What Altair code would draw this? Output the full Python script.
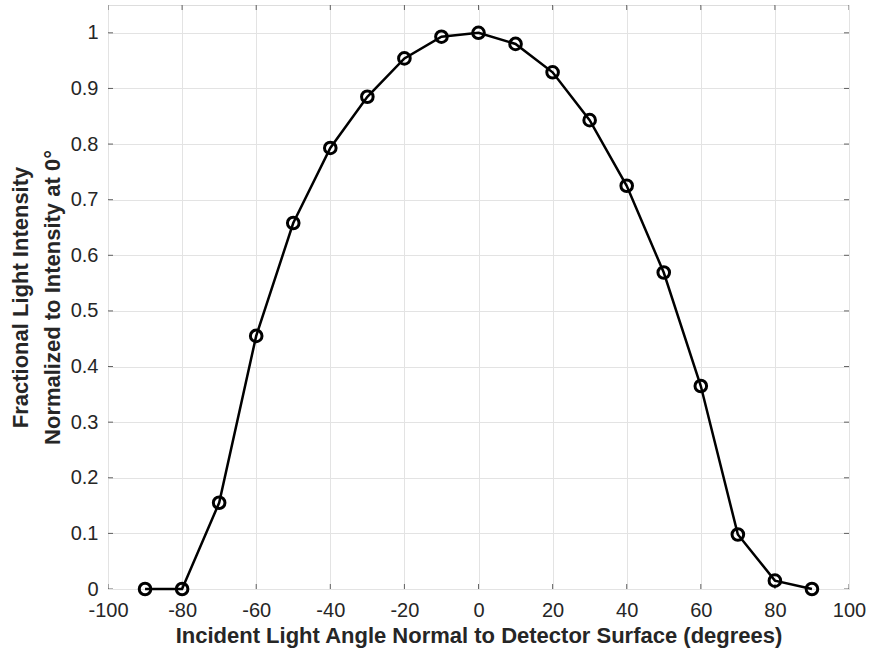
import altair as alt
import pandas as pd

# Incident angle (degrees) and measured fractional intensity, normalised to 0°
angles = [-90, -80, -70, -60, -50, -40, -30, -20, -10, 0, 10, 20, 30, 40, 50, 60, 70, 80, 90]
intensity = [0.0, 0.0, 0.155, 0.455, 0.658, 0.793, 0.885, 0.954, 0.993, 1.0,
             0.980, 0.929, 0.843, 0.725, 0.569, 0.365, 0.098, 0.015, 0.0]

x_ticks = [-100, -80, -60, -40, -20, 0, 20, 40, 60, 80, 100]
y_ticks = [0, 0.1, 0.2, 0.3, 0.4, 0.5, 0.6, 0.7, 0.8, 0.9, 1.0]

W, H = 741, 584
FONT = "Liberation Sans"
INK = "#262626"
GRID = "#e3e3e3"

df = pd.DataFrame({"angle": angles, "intensity": intensity})
xt = pd.DataFrame({"t": x_ticks})
yt = pd.DataFrame({"t": y_ticks})

x_scale = alt.Scale(domain=[-100, 100], nice=False, zero=False)
y_scale = alt.Scale(domain=[0, 1.05], nice=False, zero=False)

x_axis = alt.Axis(
    values=x_ticks, labelExpr="'' + datum.value",
    title="Incident Light Angle Normal to Detector Surface (degrees)",
    grid=True, gridColor=GRID, gridWidth=1, domain=False, ticks=False,
    labelFont=FONT, labelFontSize=20, labelColor=INK, labelPadding=11,
    titleFont=FONT, titleFontSize=22, titleFontWeight="bold", titleColor=INK, titlePadding=5,
    labelFlush=False,
)
y_axis = alt.Axis(
    values=y_ticks, labelExpr="'' + datum.value",
    title=["Fractional Light Intensity", "Normalized to Intensity at 0°"],
    grid=True, gridColor=GRID, gridWidth=1, domain=False, ticks=False,
    labelFont=FONT, labelFontSize=20, labelColor=INK, labelPadding=10,
    titleFont=FONT, titleFontSize=22, titleFontWeight="bold", titleColor=INK,
    titlePadding=6, titleLineHeight=32, labelFlush=False,
)

line = alt.Chart(df).mark_line(color="black", strokeWidth=2.5).encode(
    x=alt.X("angle:Q", scale=x_scale, axis=x_axis),
    y=alt.Y("intensity:Q", scale=y_scale, axis=y_axis),
)
points = alt.Chart(df).mark_point(
    shape="circle", filled=False, color="black", size=135, strokeWidth=3, opacity=1
).encode(x=alt.X("angle:Q", scale=x_scale), y=alt.Y("intensity:Q", scale=y_scale))

# Inward tick marks on all four sides of the box (outer halves clipped away)
tick_style = dict(color=INK, thickness=1, size=10, clip=True)
xb = alt.Chart(xt).mark_tick(orient="vertical", **tick_style).encode(
    x=alt.X("t:Q", scale=x_scale), y=alt.value(H))
xtop = alt.Chart(xt).mark_tick(orient="vertical", **tick_style).encode(
    x=alt.X("t:Q", scale=x_scale), y=alt.value(0))
yl = alt.Chart(yt).mark_tick(orient="horizontal", **tick_style).encode(
    y=alt.Y("t:Q", scale=y_scale), x=alt.value(0))
yr = alt.Chart(yt).mark_tick(orient="horizontal", **tick_style).encode(
    y=alt.Y("t:Q", scale=y_scale), x=alt.value(W))

chart = alt.layer(xb, xtop, yl, yr, line, points).properties(
    width=W, height=H,
    autosize=alt.AutoSizeParams(type="none"),
    padding={"left": 108, "top": 5, "right": 20, "bottom": 64},
).configure_view(stroke=INK, strokeWidth=1).configure(background="white")

chart.save("out.html", embed_options={"renderer": "svg", "actions": False})
